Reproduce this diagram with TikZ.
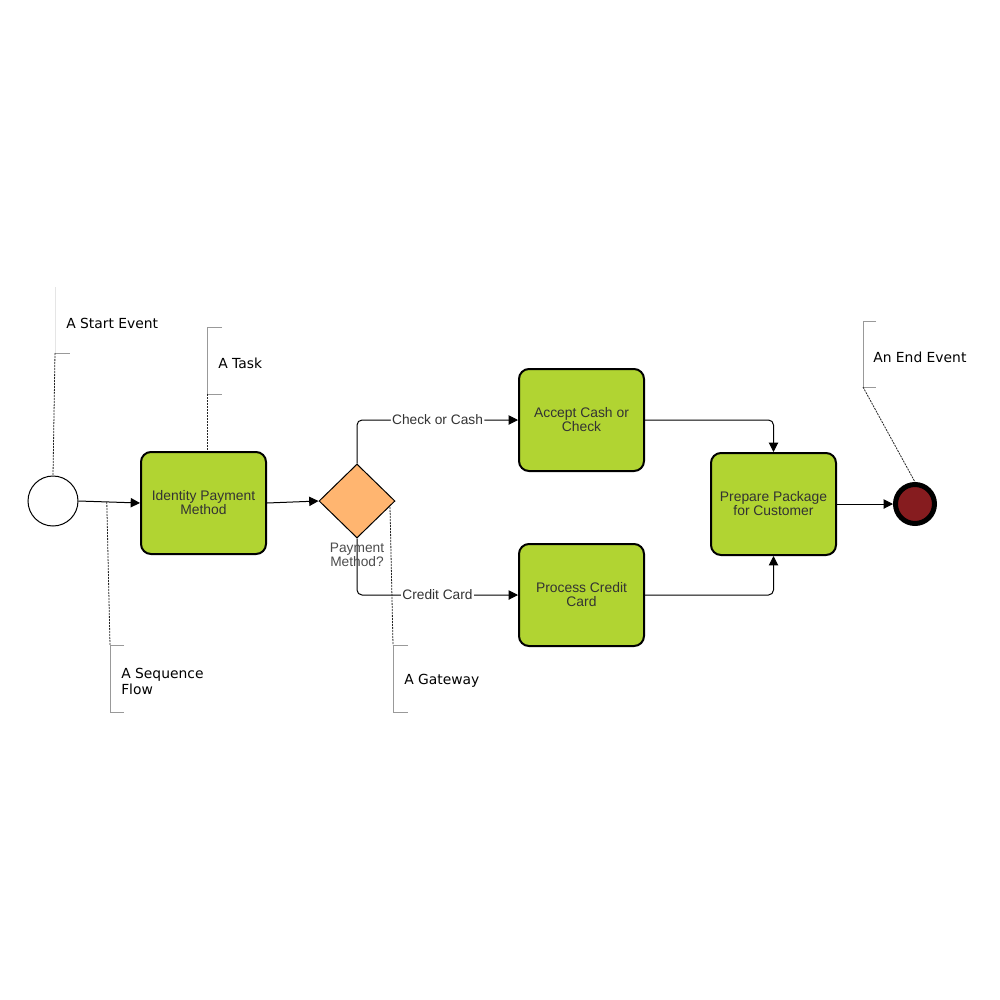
\documentclass[tikz,border=0pt]{standalone}
\usepackage{fontspec}
\setmainfont{Liberation Sans}
\newfontfamily\notefont{DejaVu Sans}
\usetikzlibrary{shapes.geometric,arrows.meta}
\definecolor{taskGreen}{HTML}{B1D432}
\definecolor{gwOrange}{HTML}{FFB570}
\definecolor{endRed}{HTML}{861C1F}
\definecolor{txtGray}{HTML}{333333}
\tikzset{
    task/.style={rectangle, rounded corners=7.5pt, draw, line width=1.5pt,
    	fill=taskGreen, minimum width=93.75pt, minimum height=76.5pt,
    	inner sep=0pt, align=center, text=txtGray,
    	font=\fontsize{10.4}{10.5}\selectfont}
}
\tikzset{
    gateway/.style={diamond, draw, line width=0.75pt, fill=gwOrange,
    	minimum width=57pt, minimum height=55.5pt, inner sep=0pt},
    startev/.style={circle, draw, line width=0.75pt, fill=white,
    	minimum size=37.5pt, inner sep=0pt},
    endev/.style={circle, draw, line width=3.75pt, fill=endRed,
    	minimum size=29.25pt, inner sep=0pt}
}
\tikzset{
    flow/.style={-{Triangle[length=7pt,width=7pt]}, line width=0.75pt,
    	rounded corners=3.75pt},
    lbl/.style={fill=white, inner sep=1pt, text=txtGray,
    	font=\fontsize{10.3}{10.5}\selectfont},
    note/.style={dash pattern=on 1.5pt off 0.75pt, line width=0.6pt,
    	draw=black!85},
    bracket/.style={draw=black!40, line width=0.75pt},
    notetext/.style={anchor=west, inner sep=0pt, align=left,
    	font=\notefont\fontsize{10.4}{12}\selectfont}
}

\begin{document}
\begin{tikzpicture}[x=0.75pt,y=-0.75pt]
	\useasboundingbox (0,0) rectangle (1000,1000);

	\node[startev] (start) at (53,501) {};
	\node[task] (identify) at (203.5,503) {Identity Payment\\Method};
	\node[gateway] (gw) at (357,501) {};
	\node[task] (accept) at (581.5,420) {Accept Cash or\\Check};
	\node[task] (process) at (581.5,595) {Process Credit\\Card};
	\node[task] (prepare) at (773.5,504) {Prepare Package\\for Customer};
	\node[endev] (end) at (915,504) {};

	\draw[flow] (start.east) -- coordinate[pos=0.46] (sfPt) (identify.west);
	\draw[flow] (identify.east) -- (gw.west);
	\draw[flow] (gw.north) |- node[lbl, pos=0.75] {Check or Cash} (accept.west);
	\draw[flow] (gw.south) |- node[lbl, pos=0.75] {Credit Card} (process.west);
	\node[align=center, inner sep=0pt, text=black!70,
		font=\fontsize{10.3}{10.5}\selectfont] (gwText) at (357,555)
		{Payment\\Method?};
	\draw[flow] (accept.east) -| (prepare.north);
	\draw[flow] (process.east) -| (prepare.south);
	\draw[flow] (prepare.east) -- (end.west);

	% annotations
	\coordinate (startC) at (55,353);
	\draw[draw=black!10, line width=0.75pt] (55,287) -- (startC);
	\draw[bracket] (startC) -- (70,353);
	\node[notetext] (startNote) at (66,323) {A Start Event};
	\draw[note] (startC) -- (start.north);

	\coordinate (taskC) at (207,394);
	\draw[bracket] (222,327) -- (207,327) -- (taskC) -- (222,394);
	\node[notetext] (taskNote) at (218,363) {A Task};
	\draw[note] (taskC) -- (taskC |- identify.north);

	\coordinate (sfC) at (110,645);
	\draw[bracket] (124,645) -- (sfC) -- (110,712) -- (124,712);
	\node[notetext] (sfNote) at (121,681) {A Sequence\\Flow};
	\draw[note] (sfPt) -- (sfC);

	\coordinate (gwPt) at (390,507);
	\coordinate (gwC) at (393,645);
	\draw[bracket] (408,645) -- (gwC) -- (393,712) -- (408,712);
	\node[notetext] (gwNote) at (404,681) {A Gateway};
	\draw[note] (gwPt) -- (gwC);

	\coordinate (endC) at (863,387);
	\draw[bracket] (876,321) -- (863,321) -- (endC) -- (876,387);
	\node[notetext] (endNote) at (873,357) {An End Event};
	\draw[note] (endC) -- (end.north);
\end{tikzpicture}
\end{document}
